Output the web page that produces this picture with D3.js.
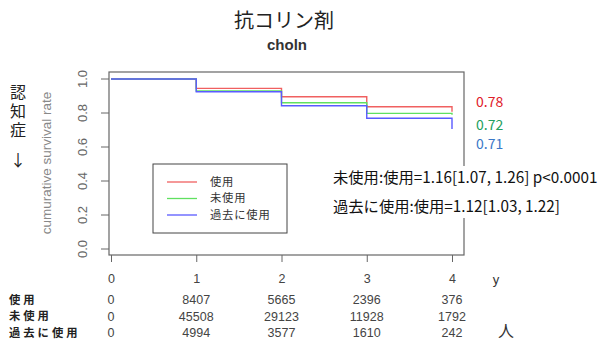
<!DOCTYPE html>
<html><head><meta charset="utf-8">
<script src="https://cdn.jsdelivr.net/npm/d3@7"></script>
<style>body{margin:0;background:#fff}svg{display:block}</style>
</head><body>
<script>
const years = [0, 1, 2, 3, 4];
const groups = ["使用", "未使用", "過去に使用"];
const survUse = [1.0, 0.945, 0.896, 0.837, 0.808];
const survNonUse = [1.0, 0.929, 0.860, 0.798, 0.790];
const survPast = [1.0, 0.925, 0.843, 0.769, 0.706];
const finalLabels = ["0.78", "0.72", "0.71"];
const atRiskUse = [0, 8407, 5665, 2396, 376];
const atRiskNonUse = [0, 45508, 29123, 11928, 1792];
const atRiskPast = [0, 4994, 3577, 1610, 242];
const yTicks = [0, 0.2, 0.4, 0.6, 0.8, 1.0];
const hrTexts = ["未使用:使用=1.16[1.07, 1.26] p<0.0001", "過去に使用:使用=1.12[1.03, 1.22]"];

const lineColors = ["#f06060", "#60e060", "#5a5aff"];
const labelColors = ["#e0202a", "#22a060", "#3a78c8"];

const W = 602, H = 346;
const svg = d3.select("body").append("svg").attr("width", W).attr("height", H);
const box = {l: 109, r: 464, t: 72, b: 255};
const x = d3.scaleLinear().domain([0, 4]).range([111, 452]);
const y = d3.scaleLinear().domain([0, 1]).range([249, 79]);
const font = "'Liberation Sans', Arial, sans-serif";
const cjk = "'Noto Sans CJK JP', sans-serif";

// title
svg.append("text").attr("x", 284).attr("y", 28).attr("text-anchor", "middle")
  .attr("font-family", cjk).attr("font-size", 20).attr("fill", "#222").text("抗コリン剤");
svg.append("text").attr("x", 287).attr("y", 50).attr("text-anchor", "middle")
  .attr("font-family", font).attr("font-weight", "bold").attr("font-size", 15).attr("fill", "#333").text("choln");

// box
svg.append("rect").attr("x", box.l).attr("y", box.t).attr("width", box.r - box.l).attr("height", box.b - box.t)
  .attr("fill", "none").attr("stroke", "#666").attr("stroke-width", 1.2);

// y axis
const yAxis = d3.axisLeft(y).tickValues(yTicks).tickFormat(d3.format(".1f")).tickSize(8);
const ya = svg.append("g").attr("transform", `translate(${box.l},0)`).call(yAxis);
ya.select(".domain").remove();
ya.selectAll(".tick").attr("transform", null);
ya.selectAll(".tick line").attr("stroke", "#666").attr("y1", d => y(d)).attr("y2", d => y(d)).attr("x2", -8);
ya.selectAll(".tick text").attr("font-family", font).attr("font-size", 13).attr("fill", "#666")
  .attr("text-anchor", "middle").attr("x", -27).attr("y", d => y(d)).attr("dy", "0.35em")
  .attr("transform", d => `rotate(-90, -27, ${y(d)})`);

// x axis
const xAxis = d3.axisBottom(x).tickValues(years).tickSize(7).tickFormat(d3.format("d")).tickPadding(12);
const xa = svg.append("g").attr("transform", `translate(0,${box.b})`).call(xAxis);
xa.select(".domain").remove();
xa.selectAll("line").attr("stroke", "#666");
xa.selectAll("text").attr("font-family", font).attr("font-size", 12.5).attr("fill", "#444");
svg.append("text").attr("x", 496).attr("y", 284).attr("text-anchor", "middle")
  .attr("font-family", font).attr("font-size", 13).attr("fill", "#333").text("y");

// curves
const series = [survUse, survNonUse, survPast];
const stepLine = d3.line().x(d => x(d[0])).y(d => y(d[1])).curve(d3.curveStepAfter);
series.forEach((s, i) => {
  const path = [];
  for (let k = 0; k < years.length - 1; k++) path.push([years[k], s[k]]);
  path.push([years[years.length - 1], s[years.length - 2]]);
  path.push([years[years.length - 1], s[years.length - 1]]);
  svg.append("path").attr("d", stepLine(path))
    .attr("fill", "none").attr("stroke", lineColors[i]).attr("stroke-width", 1.4);
});

// final labels
const flY = [102, 125, 144];
finalLabels.forEach((t, i) => {
  svg.append("text").attr("x", 476).attr("y", flY[i]).attr("dy", "0.35em")
    .attr("font-family", cjk).attr("font-size", 14).attr("fill", labelColors[i]).text(t);
});

// legend
svg.append("rect").attr("x", 153).attr("y", 164).attr("width", 134).attr("height", 69)
  .attr("fill", "#fff").attr("stroke", "#444").attr("stroke-width", 1);
const legY = [182, 198.5, 215];
groups.forEach((g, i) => {
  svg.append("line").attr("x1", 167).attr("x2", 197).attr("y1", legY[i]).attr("y2", legY[i])
    .attr("stroke", lineColors[i]).attr("stroke-width", 1.3);
  svg.append("text").attr("x", 210).attr("y", legY[i]).attr("dy", "0.35em")
    .attr("font-family", cjk).attr("font-size", 11.3).attr("letter-spacing", 0.8).attr("fill", "#333").text(g);
});

// HR texts on white background (covers box edge as in reference)
svg.append("rect").attr("x", 331).attr("y", 166).attr("width", 271).attr("height", 52).attr("fill", "#fff");
const hrY = [178, 207];
hrTexts.forEach((t, i) => {
  svg.append("text").attr("x", 333).attr("y", hrY[i]).attr("dy", "0.35em")
    .attr("font-family", cjk).attr("font-size", 15.3).attr("fill", "#111").text(t);
});

// y labels
svg.append("text").attr("transform", "translate(46,163) rotate(-90)").attr("text-anchor", "middle")
  .attr("dy", "0.35em").attr("font-family", font).attr("font-size", 13.5).attr("fill", "#888")
  .text("cumurative survival rate");
svg.append("text").attr("x", 18).attr("y", 84)
  .style("writing-mode", "vertical-rl").style("letter-spacing", "3px")
  .attr("font-family", cjk).attr("font-size", 16).attr("fill", "#222").text("認知症");
svg.append("text").attr("x", 18).attr("y", 160).attr("dy", "0.35em").attr("text-anchor", "middle")
  .attr("font-family", cjk).attr("font-size", 16).attr("fill", "#222").text("↓");

// at-risk table
const rows = [atRiskUse, atRiskNonUse, atRiskPast];
const rowY = [300, 316.5, 333];
groups.forEach((g, i) => {
  svg.append("text").attr("x", 9).attr("y", rowY[i]).attr("dy", "0.35em")
    .attr("font-family", cjk).attr("font-size", 11.3).attr("font-weight", "bold")
    .attr("fill", "#222").attr("letter-spacing", 3).text(g);
});
rows.forEach((r, i) => {
  r.forEach((v, k) => {
    svg.append("text").attr("x", x(years[k])).attr("y", rowY[i]).attr("dy", "0.35em").attr("text-anchor", "middle")
      .attr("font-family", font).attr("font-size", 12.5).attr("fill", "#444").text(v);
  });
});
svg.append("text").attr("x", 506).attr("y", 331).attr("dy", "0.35em").attr("text-anchor", "middle")
  .attr("font-family", cjk).attr("font-size", 16).attr("fill", "#333").text("人");
</script>
</body></html>
